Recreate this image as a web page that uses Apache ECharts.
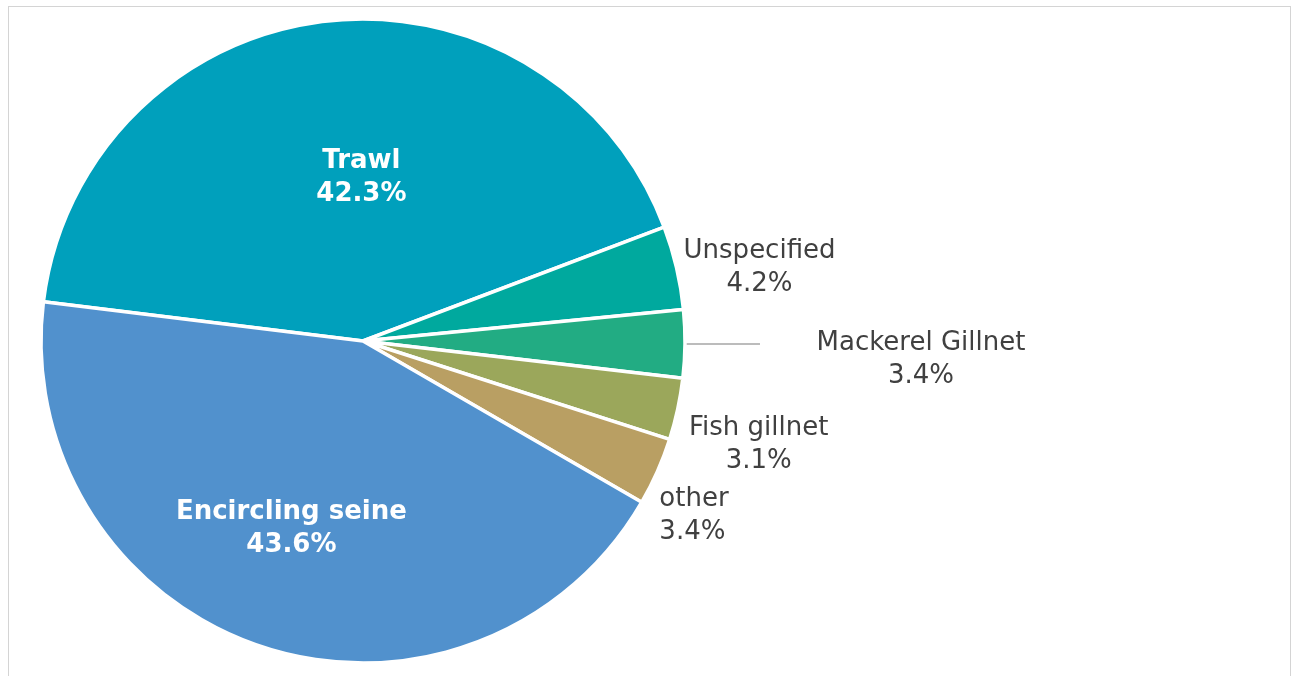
<!DOCTYPE html>
<html>
<head>
<meta charset="utf-8">
<script src="https://cdn.jsdelivr.net/npm/echarts@6/dist/echarts.min.js"></script>
<style>
  html, body { margin: 0; padding: 0; background: #fff; }
  #frame { position: absolute; left: 8px; top: 6px; width: 1283px; height: 720px; border: 1.5px solid #d4d4d4; box-sizing: border-box; }
  #chart { position: absolute; left: 0; top: 0; width: 1295px; height: 676px; }
</style>
</head>
<body>
<div id="frame"></div>
<div id="chart"></div>
<script>
const categories = ['Trawl', 'Unspecified', 'Mackerel Gillnet', 'Fish gillnet', 'other', 'Encircling seine'];
const values = [42.3, 4.2, 3.4, 3.1, 3.4, 43.6];
const colors = ['#00A0BC', '#00A99E', '#22AC83', '#9BA75B', '#B99F63', '#5191CD'];

// label styling per slice (presentation only)
const labelStyles = [
  { inside: true, padding: [0, 0, 0, 36] },
  { inside: false, width: 156, align: 'center', distance: 5, padding: [0, 0, 0, 0], line: false },
  { inside: false, width: 220, align: 'center', distance: 51, padding: [31, 0, 0, 0], line: true, len: 10, len2: 65 },
  { inside: false, width: 150, align: 'center', distance: 6, padding: [72, 0, 0, 0], line: false },
  { inside: false, width: 80, align: 'left', distance: 2, padding: [88, 0, 0, 0], line: false },
  { inside: true, padding: [65, 39, 0, 0] }
];

const FONT = "'DejaVu Sans', Verdana, sans-serif";

const seriesData = categories.map(function (name, i) {
  const s = labelStyles[i];
  const item = { name: name, value: values[i], itemStyle: { color: colors[i] } };
  if (s.inside) {
    item.label = {
      position: 'inside',
      padding: s.padding,
      formatter: function (p) { return '{b|' + p.name + '}\n{b|' + p.value.toFixed(1) + '%}'; },
      rich: { b: { color: '#ffffff', fontWeight: 'bold', fontSize: 26, fontFamily: FONT, lineHeight: 33, align: 'center' } }
    };
    item.labelLine = { show: false };
  } else {
    item.label = {
      position: 'outside',
      distanceToLabelLine: s.distance,
      padding: s.padding,
      formatter: function (p) { return '{c|' + p.name + '}\n{c|' + p.value.toFixed(1) + '%}'; },
      rich: { c: { color: '#404040', fontSize: 26, fontFamily: FONT, lineHeight: 33, width: s.width, align: s.align } }
    };
    item.labelLine = s.line
      ? { show: true, length: s.len, length2: s.len2, lineStyle: { color: '#a6a6a6', width: 1.5 } }
      : { show: false, length: 0, length2: 0 };
  }
  return item;
});

const chart = echarts.init(document.getElementById('chart'), null, { renderer: 'canvas' });
chart.setOption({
  backgroundColor: 'transparent',
  animation: false,
  series: [{
    type: 'pie',
    center: [363, 341],
    radius: 322,
    startAngle: 173,
    clockwise: true,
    avoidLabelOverlap: false,
    itemStyle: { borderColor: '#ffffff', borderWidth: 3.5 },
    label: { show: true },
    emphasis: { disabled: true },
    data: seriesData
  }]
});
</script>
</body>
</html>
